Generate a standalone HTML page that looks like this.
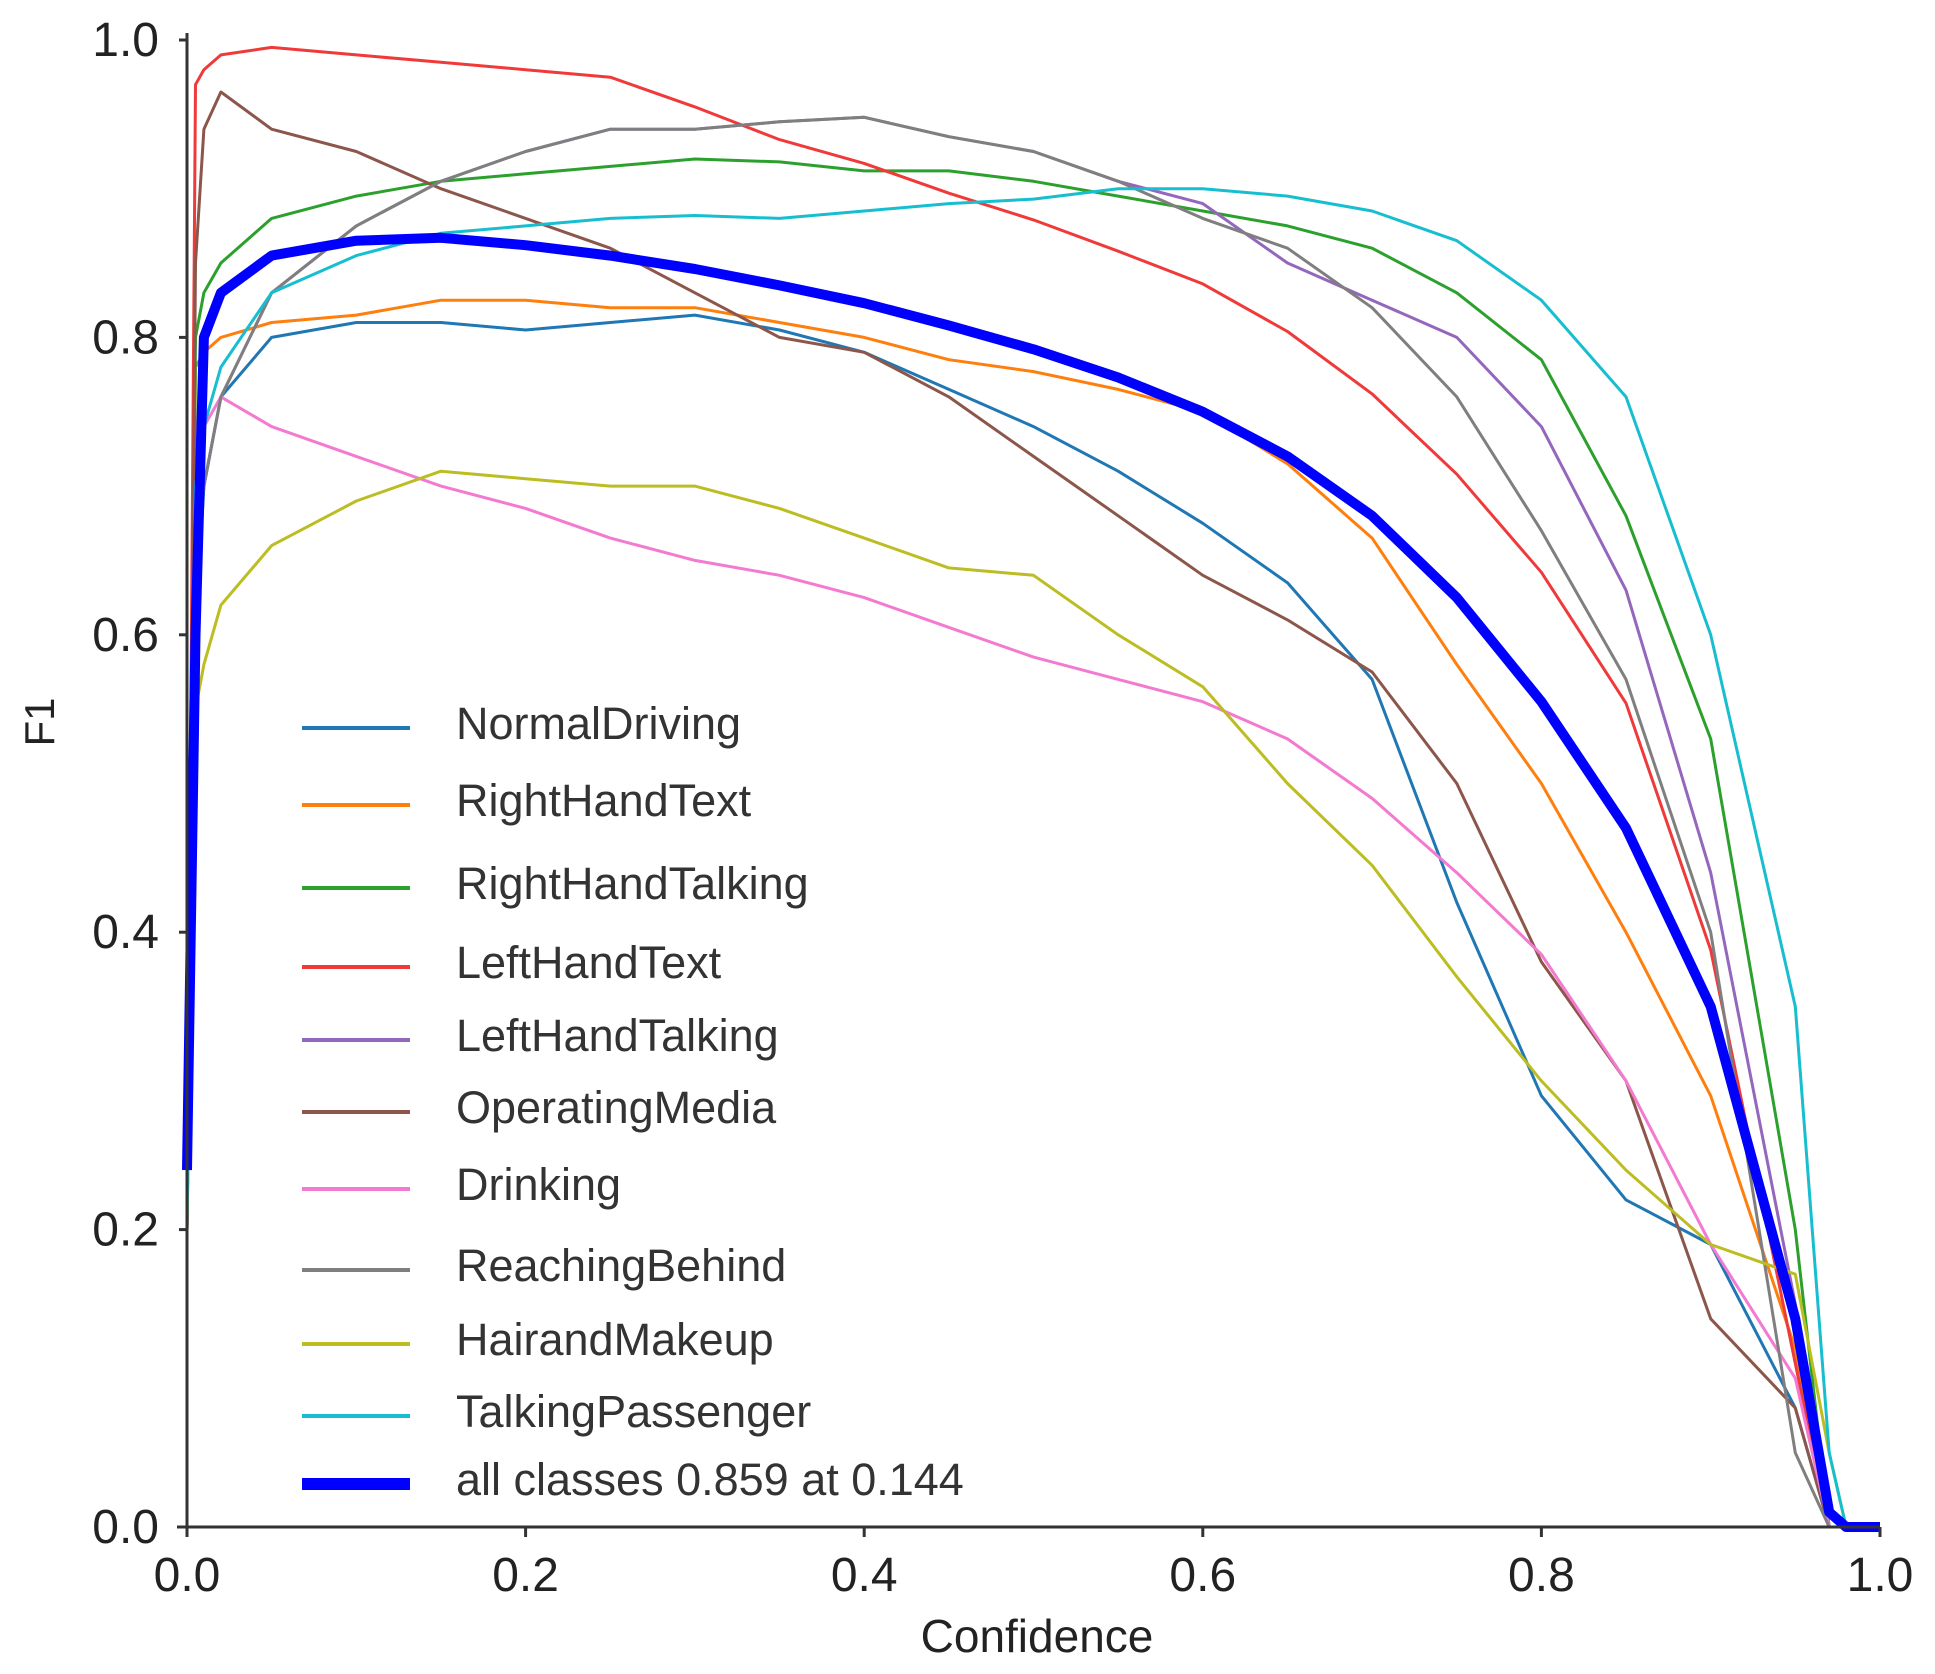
<!DOCTYPE html>
<html><head><meta charset="utf-8"><style>
html,body{margin:0;padding:0;background:#fff;}
svg{display:block;font-family:"Liberation Sans","DejaVu Sans",sans-serif;}
</style></head><body>
<svg id="chart" width="1935" height="1674" viewBox="0 0 1935 1674" xmlns="http://www.w3.org/2000/svg">
<g id="series"></g>
<g id="axes"></g>
<g id="legend"></g>
<text x="54" y="722" font-size="42" fill="#222" text-anchor="middle" transform="rotate(-90 54 722)">F1</text>
<text x="1037" y="1652" font-size="46" fill="#222" text-anchor="middle">Confidence</text>
</svg>
<script>
const xs = [0,0.005,0.01,0.02,0.05,0.1,0.15,0.2,0.25,0.3,0.35,0.4,0.45,0.5,0.55,0.6,0.65,0.7,0.75,0.8,0.85,0.9,0.95,0.97,0.98,1.0];
const seriesNames = ["NormalDriving","RightHandText","RightHandTalking","LeftHandText","LeftHandTalking","OperatingMedia","Drinking","ReachingBehind","HairandMakeup","TalkingPassenger","all classes 0.859 at 0.144"];
const normalDriving = [0.2,0.6,0.7,0.76,0.8,0.81,0.81,0.805,0.81,0.815,0.805,0.79,0.765,0.74,0.71,0.675,0.635,0.57,0.42,0.29,0.22,0.19,0.08,0,0,0];
const rightHandText = [0.2,0.78,0.79,0.8,0.81,0.815,0.825,0.825,0.82,0.82,0.81,0.8,0.785,0.777,0.765,0.75,0.715,0.665,0.58,0.5,0.4,0.29,0.12,0,0,0];
const rightHandTalking = [0.2,0.8,0.83,0.85,0.88,0.895,0.905,0.91,0.915,0.92,0.918,0.912,0.912,0.905,0.895,0.885,0.875,0.86,0.83,0.785,0.68,0.53,0.2,0,0,0];
const leftHandText = [0.2,0.97,0.98,0.99,0.995,0.99,0.985,0.98,0.975,0.955,0.933,0.917,0.897,0.879,0.858,0.836,0.804,0.762,0.708,0.642,0.554,0.388,0.11,0,0,0];
const leftHandTalking = [0.2,0.65,0.7,0.76,0.83,0.875,0.905,0.925,0.94,0.94,0.945,0.948,0.935,0.925,0.905,0.89,0.85,0.825,0.8,0.74,0.63,0.44,0.15,0,0,0];
const operatingMedia = [0.2,0.85,0.94,0.965,0.94,0.925,0.9,0.88,0.86,0.83,0.8,0.79,0.76,0.72,0.68,0.64,0.61,0.575,0.5,0.38,0.3,0.14,0.08,0,0,0];
const drinking = [0.2,0.7,0.74,0.76,0.74,0.72,0.7,0.685,0.665,0.65,0.64,0.625,0.605,0.585,0.57,0.555,0.53,0.49,0.44,0.385,0.3,0.19,0.1,0,0,0];
const reachingBehind = [0.2,0.65,0.7,0.76,0.83,0.875,0.905,0.925,0.94,0.94,0.945,0.948,0.935,0.925,0.905,0.88,0.86,0.82,0.76,0.67,0.57,0.4,0.05,0,0,0];
const hairandMakeup = [0.2,0.55,0.58,0.62,0.66,0.69,0.71,0.705,0.7,0.7,0.685,0.665,0.645,0.64,0.6,0.565,0.5,0.445,0.37,0.3,0.24,0.19,0.17,0.05,0,0];
const talkingPassenger = [0.2,0.7,0.74,0.78,0.83,0.855,0.87,0.875,0.88,0.882,0.88,0.885,0.89,0.893,0.9,0.9,0.895,0.885,0.865,0.825,0.76,0.6,0.35,0.05,0,0];
const allClasses = [0.24,0.6,0.8,0.83,0.855,0.865,0.867,0.862,0.855,0.846,0.835,0.823,0.808,0.792,0.773,0.75,0.72,0.68,0.625,0.555,0.47,0.35,0.14,0.01,0,0];
const xTicks = [0,0.2,0.4,0.6,0.8,1.0];
const yTicks = [0,0.2,0.4,0.6,0.8,1.0];
const tickLabels = ["0.0","0.2","0.4","0.6","0.8","1.0"];

const NS="http://www.w3.org/2000/svg";
const X0=187,X1=1880,Y0=1527,Y1=40;
const sx=v=>X0+v*(X1-X0);
const sy=v=>Y0-v*(Y0-Y1);
const allData=[normalDriving,rightHandText,rightHandTalking,leftHandText,leftHandTalking,operatingMedia,drinking,reachingBehind,hairandMakeup,talkingPassenger,allClasses];
const colors=["#1f77b4","#ff7f0e","#2ca02c","#f03a3a","#9467bd","#8c564b","#f37ad0","#7f7f7f","#bcbd22","#17becf","#0000ff"];
const widths=[3,3,3,3,3,3,3,3,3,3,10];
const slugs=["normal-driving","right-hand-text","right-hand-talking","left-hand-text","left-hand-talking","operating-media","drinking","reaching-behind","hairand-makeup","talking-passenger","all-classes"];
const sg=document.getElementById('series');
allData.forEach((d,i)=>{
  const p=document.createElementNS(NS,'path');
  p.setAttribute('d',d.map((v,j)=>(j?'L':'M')+sx(xs[j]).toFixed(1)+','+sy(v).toFixed(1)).join(''));
  p.setAttribute('fill','none');p.setAttribute('stroke',colors[i]);p.setAttribute('stroke-width',widths[i]);
  p.setAttribute('stroke-linejoin','round');
  
  
  sg.appendChild(p);
});
const ag=document.getElementById('axes');
function el(tag,attrs){const e=document.createElementNS(NS,tag);for(const k in attrs)e.setAttribute(k,attrs[k]);return e;}
const ly=el('line',{x1:X0,y1:Y0,x2:X0,y2:33,stroke:'#333','stroke-width':3});


ag.appendChild(ly);
const lx=el('line',{x1:X0-10,y1:Y0,x2:X1,y2:Y0,stroke:'#333','stroke-width':3});


ag.appendChild(lx);
xTicks.forEach((v,i)=>{
  const t=el('line',{x1:sx(v),y1:Y0,x2:sx(v),y2:Y0+10,stroke:'#333','stroke-width':3});
  
  
  ag.appendChild(t);
  const tx=el('text',{x:sx(v),y:Y0+64,'font-size':48,fill:'#222','text-anchor':'middle'});
  tx.textContent=tickLabels[i];
  
  
  ag.appendChild(tx);
});
yTicks.forEach((v,i)=>{
  const t=el('line',{x1:X0-8,y1:sy(v),x2:X0,y2:sy(v),stroke:'#333','stroke-width':3});
  
  
  ag.appendChild(t);
  const tx=el('text',{x:X0-28,y:sy(v)+16,'font-size':48,fill:'#222','text-anchor':'end'});
  tx.textContent=tickLabels[i];
  
  
  ag.appendChild(tx);
});
const lg=document.getElementById('legend');
const rowY=[723,800,883,962,1035,1107,1184,1265,1339,1411,1479];
seriesNames.forEach((n,i)=>{
  const g=el('g',{});
  
  
  g.appendChild(el('line',{x1:302,y1:rowY[i]+5,x2:410,y2:rowY[i]+5,stroke:colors[i],'stroke-width':i===10?12:4}));
  const t=el('text',{x:456,y:rowY[i]+16,'font-size':45,fill:'#333'});
  t.textContent=n;
  g.appendChild(t);
  lg.appendChild(g);
});
</script>
</body></html>
